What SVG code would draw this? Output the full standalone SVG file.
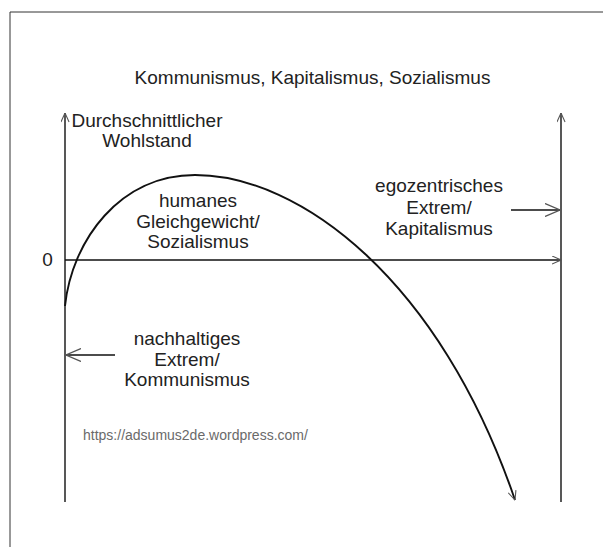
<svg xmlns="http://www.w3.org/2000/svg" width="603" height="547" viewBox="0 0 603 547">
<style>
  .lbl { font-family: "Liberation Sans", Arial, sans-serif; font-size: 19px; fill: #222; text-anchor: middle; }
  .ttl { font-family: "Liberation Sans", Arial, sans-serif; font-size: 19px; fill: #222; text-anchor: middle; }
  .url { font-family: "Liberation Sans", Arial, sans-serif; font-size: 14px; fill: #6a6a6a; }
  .ax { stroke: #111; stroke-width: 1.4; fill: none; }
  .crv { stroke: #111; stroke-width: 1.9; fill: none; }
</style>
<defs>
  <marker id="ms" viewBox="0 0 10 10" refX="10" refY="5" markerWidth="10" markerHeight="9" markerUnits="userSpaceOnUse" orient="auto">
    <path d="M0,0.5 L10,5 L0,9.5" fill="none" stroke="#555" stroke-width="1.2"/>
  </marker>
  <marker id="mb" viewBox="0 0 15 14" refX="15" refY="7" markerWidth="15" markerHeight="14" markerUnits="userSpaceOnUse" orient="auto">
    <path d="M0,0.5 L15,7 L0,13.5" fill="none" stroke="#555" stroke-width="1.3"/>
  </marker>
</defs>
<rect width="603" height="547" fill="#fff"/>
<g id="frame">
  <path d="M10,547 L10,12 L603,12" fill="none" stroke="#333" stroke-width="1"/>
</g>
<g id="connectors">
  <line id="axis-left" class="ax" x1="65" y1="502" x2="65" y2="113" marker-end="url(#ms)"/>
  <line id="axis-right" class="ax" x1="561" y1="502" x2="561" y2="113" marker-end="url(#ms)"/>
  <line id="axis-zero" class="ax" x1="65" y1="260" x2="561" y2="260" marker-end="url(#ms)"/>
  <path id="curve" class="crv" d="M65,306 C72,240 120,175 195,175 C300,175 440,280 515,500" marker-end="url(#ms)"/>
  <line id="arrow-kapitalismus" class="ax" x1="511" y1="210" x2="560" y2="210" marker-end="url(#mb)"/>
  <line id="arrow-kommunismus" class="ax" x1="115" y1="355" x2="66" y2="355" marker-end="url(#mb)"/>
</g>
<g id="title">
  <text class="ttl" x="312.5" y="84">Kommunismus, Kapitalismus, Sozialismus</text>
</g>
<g id="y-label">
  <text class="lbl" x="147" y="127">Durchschnittlicher</text>
  <text class="lbl" x="147" y="147">Wohlstand</text>
</g>
<g id="zero-label">
  <text class="lbl" x="47.5" y="266">0</text>
</g>
<g id="sozialismus">
  <text class="lbl" x="198" y="207">humanes</text>
  <text class="lbl" x="198" y="228">Gleichgewicht/</text>
  <text class="lbl" x="198" y="248">Sozialismus</text>
</g>
<g id="kapitalismus">
  <text class="lbl" x="439" y="192">egozentrisches</text>
  <text class="lbl" x="439" y="214">Extrem/</text>
  <text class="lbl" x="439" y="235">Kapitalismus</text>
</g>
<g id="kommunismus">
  <text class="lbl" x="187" y="345">nachhaltiges</text>
  <text class="lbl" x="187" y="366">Extrem/</text>
  <text class="lbl" x="187" y="386">Kommunismus</text>
</g>
<g id="url">
  <text class="url" x="83" y="440">https://adsumus2de.wordpress.com/</text>
</g>
</svg>
